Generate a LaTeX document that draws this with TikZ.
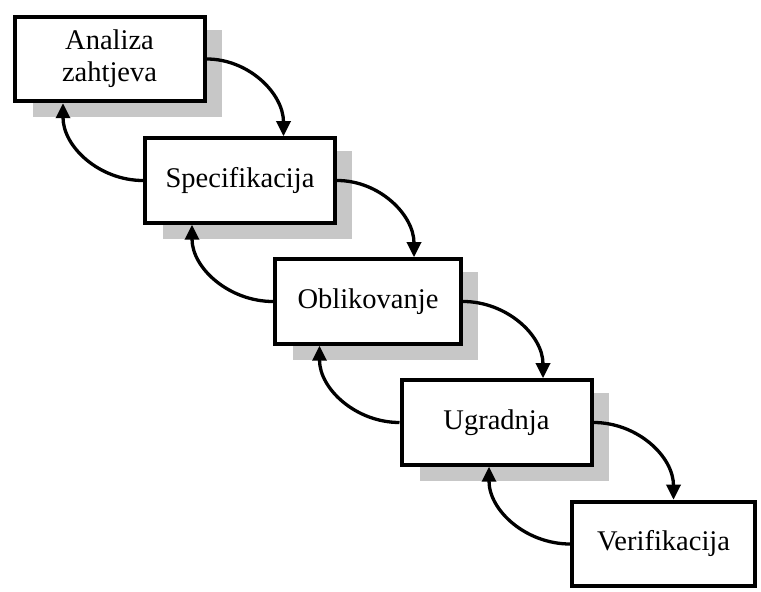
\documentclass[tikz,border=0pt]{standalone}
\usepackage{fontspec}
\setmainfont{Liberation Serif}
\usetikzlibrary{arrows.meta,calc,backgrounds}
\tikzset{
  stage/.style={draw=black, line width=4pt, fill=white, minimum width=190pt,
    minimum height=84.5pt, inner sep=0pt, align=center,
    font=\fontsize{28.5}{32}\selectfont},
  shadowbox/.style={fill=black!22, draw=none},
  flow/.style={line width=3.3pt, -{Triangle[length=15pt,width=14pt]}},
}
\begin{document}
\begin{tikzpicture}[x=1pt,y=1pt]
\useasboundingbox (0,0) rectangle (761,592);
\node[stage] (b1) at (109.5,533) {Analiza\\zahtjeva};
\node[stage] (b2) at (240,411.5) {Specifikacija};
\node[stage, minimum width=186pt] (b3) at (368,290.5) {Oblikovanje};
\node[stage] (b4) at (496.5,169.5) {Ugradnja};
\node[stage, minimum width=183pt] (b5) at (663.5,48) {Verifikacija};
\begin{pgfonlayer}{background}
  \foreach \b in {b1,b2,b3,b4}{
    \fill[shadowbox] ([shift={(20,-15)}]\b.north west) rectangle ([shift={(15,-14)}]\b.south east);
  }
\end{pgfonlayer}
% forward arrows
\draw[flow] (b1.east) to[out=0,in=90] ($(b1.east |- b2.north)+(77,0)$);
\draw[flow] (b2.east) to[out=0,in=90] ($(b2.east |- b3.north)+(77,0)$);
\draw[flow] (b3.east) to[out=0,in=90] ($(b3.east |- b4.north)+(80,0)$);
\draw[flow] (b4.east) to[out=0,in=90] ($(b4.east |- b5.north)+(80,0)$);
% backward arrows
\draw[flow] (b2.west) to[out=180,in=-90] ($(b2.west |- b1.south)+(-80,0)$);
\draw[flow] (b3.west) to[out=180,in=-90] ($(b3.west |- b2.south)+(-81,0)$);
\draw[flow] (b4.west) to[out=180,in=-90] ($(b4.west |- b3.south)+(-80,0)$);
\draw[flow] (b5.west) to[out=180,in=-90] ($(b5.west |- b4.south)+(-81,0)$);
\end{tikzpicture}
\end{document}
